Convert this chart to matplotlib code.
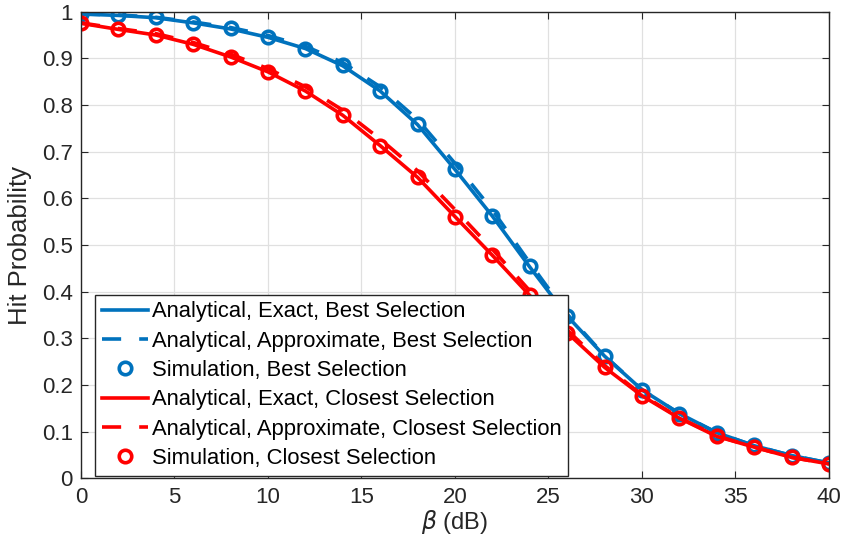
import numpy as np
import matplotlib
import matplotlib.pyplot as plt

matplotlib.use('agg')
plt.rcParams['font.family'] = ['Liberation Sans', 'DejaVu Sans']

beta_db = [0, 2, 4, 6, 8, 10, 12, 14, 16, 18, 20, 22, 24, 26, 28, 30, 32, 34, 36, 38, 40]

best_exact = [0.995, 0.992, 0.987, 0.976, 0.963, 0.945, 0.921, 0.884, 0.830, 0.758, 0.662, 0.562, 0.453, 0.348,
              0.262, 0.190, 0.139, 0.098, 0.070, 0.049, 0.033]
best_approx = [0.995, 0.993, 0.988, 0.978, 0.966, 0.949, 0.926, 0.891, 0.839, 0.769, 0.675, 0.575, 0.462, 0.352,
               0.263, 0.190, 0.139, 0.098, 0.070, 0.049, 0.033]
best_sim = [0.996, 0.993, 0.988, 0.976, 0.964, 0.945, 0.921, 0.885, 0.831, 0.759, 0.663, 0.563, 0.455, 0.348,
            0.262, 0.190, 0.139, 0.098, 0.071, 0.049, 0.033]

closest_exact = [0.975, 0.962, 0.950, 0.930, 0.903, 0.871, 0.830, 0.778, 0.713, 0.645, 0.561, 0.478, 0.392, 0.312,
                 0.238, 0.177, 0.129, 0.090, 0.067, 0.045, 0.031]
closest_approx = [0.976, 0.964, 0.953, 0.934, 0.909, 0.878, 0.839, 0.789, 0.727, 0.659, 0.576, 0.491, 0.402, 0.318,
                  0.242, 0.179, 0.130, 0.091, 0.067, 0.045, 0.031]
closest_sim = [0.975, 0.962, 0.950, 0.930, 0.903, 0.871, 0.830, 0.778, 0.713, 0.645, 0.561, 0.478, 0.392, 0.312,
               0.238, 0.177, 0.129, 0.090, 0.067, 0.045, 0.031]

blue = '#0072BD'
red = '#FF0000'

fig = plt.figure(figsize=(8.48, 5.43), dpi=100)
ax = fig.add_axes([0.0955, 0.119, 0.882, 0.8595])

lw = 2.6
dash = (5.3, 5)
ax.plot(beta_db, best_exact, '-', color=blue, lw=lw, label='Analytical, Exact, Best Selection')
ax.plot(beta_db, best_approx, '--', color=blue, lw=lw, dashes=dash, label='Analytical, Approximate, Best Selection')
ax.plot(beta_db, best_sim, 'o', color=blue, mfc='none', mew=2.6, ms=9, label='Simulation, Best Selection')
ax.plot(beta_db, closest_exact, '-', color=red, lw=lw, label='Analytical, Exact, Closest Selection')
ax.plot(beta_db, closest_approx, '--', color=red, lw=lw, dashes=dash,
        label='Analytical, Approximate, Closest Selection')
ax.plot(beta_db, closest_sim, 'o', color=red, mfc='none', mew=2.6, ms=9, label='Simulation, Closest Selection')

ax.set_xlim(0, 40)
ax.set_ylim(0, 1)
ax.set_xticks(np.arange(0, 41, 5))
ax.set_yticks(np.arange(0, 1.01, 0.1))
ax.set_yticklabels(['0', '0.1', '0.2', '0.3', '0.4', '0.5', '0.6', '0.7', '0.8', '0.9', '1'])
ax.tick_params(direction='in', top=True, right=True, labelsize=16, length=5, color='#262626', pad=6,
               labelcolor='#262626')
ax.grid(True, color='#e0e0e0', lw=0.9)
ax.set_axisbelow(True)
for s in ax.spines.values():
    s.set_color('#262626')
    s.set_linewidth(1.0)

ax.set_xlabel(r'$\beta$ (dB)', fontsize=17, labelpad=0, color='#262626')
ax.set_ylabel('Hit Probability', fontsize=18.5, labelpad=7, color='#262626')

leg = ax.legend(loc='lower left', bbox_to_anchor=(0.019, 0.006), fontsize=15.8, frameon=True, fancybox=False,
                handlelength=2.1, handletextpad=0.2, labelspacing=0.38, borderpad=0.3, borderaxespad=0)
leg.get_frame().set_edgecolor('#262626')
leg.get_frame().set_linewidth(1.0)
leg.get_frame().set_alpha(1)

plt.savefig('out.png', dpi=100)
